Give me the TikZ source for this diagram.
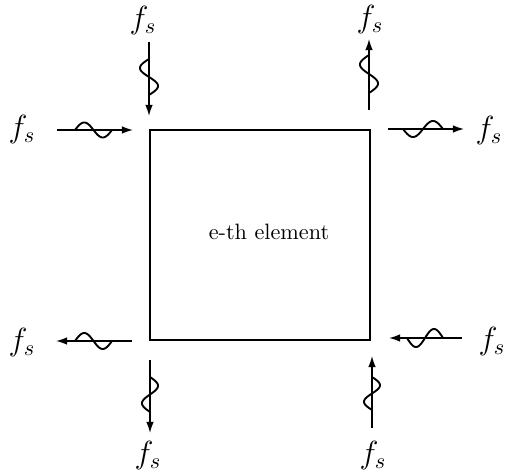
\documentclass[tikz,border=0pt]{standalone}
\usetikzlibrary{arrows.meta}
\newcommand\hwavepath[4]{% x0, x1, y, signed amplitude
  \draw[wave] plot[domain=0:360,samples=50,variable=\t] ({#1+(#2-#1)*\t/360},{#3+(#4)*sin(\t)});}
\newcommand\vwavepath[4]{% y0, y1, x, signed amplitude
  \draw[wave] plot[domain=0:360,samples=50,variable=\t] ({#3+(#4)*sin(\t)},{#1+(#2-#1)*\t/360});}
\begin{document}
\begin{tikzpicture}[x=0.45pt,y=-0.45pt,
  box/.style={draw,line width=0.9pt,minimum width=99pt,minimum height=94.5pt,inner sep=0pt},
  force/.style={line width=0.65pt,-{Latex[length=5pt,width=3.4pt]}},
  wave/.style={line width=0.85pt},
  lab/.style={inner sep=1pt,font=\Large}]
\useasboundingbox (0,0) rectangle (511,473);
% element
\node[box] (elem) at (260,235.5) {};
\node (txt) at (269,232) {e-th element};
% coordinates of arrow ends
\coordinate (tlv1) at (149,42);  \coordinate (tlv2) at (149,116);
\coordinate (tlh1) at (57,130);  \coordinate (tlh2) at (133,130);
\coordinate (trv1) at (369,110); \coordinate (trv2) at (369,39);
\coordinate (trh1) at (388,129); \coordinate (trh2) at (464,129);
\coordinate (blh1) at (132,341); \coordinate (blh2) at (56,341);
\coordinate (blv1) at (150,360); \coordinate (blv2) at (150,433);
\coordinate (brh1) at (462,338); \coordinate (brh2) at (389,338);
\coordinate (brv1) at (372,428); \coordinate (brv2) at (372,356);
% arrows
\draw[force] (tlv1) -- (tlv2);
\draw[force] (tlh1) -- (tlh2);
\draw[force] (trv1) -- (trv2);
\draw[force] (trh1) -- (trh2);
\draw[force] (blh1) -- (blh2);
\draw[force] (blv1) -- (blv2);
\draw[force] (brh1) -- (brh2);
\draw[force] (brv1) -- (brv2);
% waves
\vwavepath{59}{95}{149}{-9}
\hwavepath{75}{112}{130}{-7.5}
\vwavepath{55}{93}{369}{-9}
\hwavepath{403}{443}{129}{8}
\hwavepath{75}{112}{341}{-8}
\vwavepath{377}{412}{150}{8}
\hwavepath{407}{443}{338}{9}
\vwavepath{377}{410}{372}{8}
% labels
\node[lab] (l1) at (143,21) {$f_s$};
\node[lab] (l2) at (22,130) {$f_s$};
\node[lab] (l3) at (370,20) {$f_s$};
\node[lab] (l4) at (489,131) {$f_s$};
\node[lab] (l5) at (22,343) {$f_s$};
\node[lab] (l6) at (148,456) {$f_s$};
\node[lab] (l7) at (492,342) {$f_s$};
\node[lab] (l8) at (373,456) {$f_s$};
\end{tikzpicture}
\end{document}
